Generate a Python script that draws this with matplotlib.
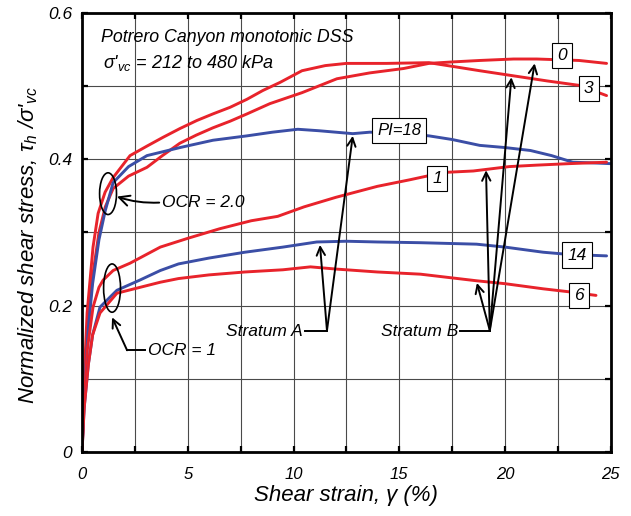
import matplotlib
matplotlib.use("Agg")
import matplotlib.pyplot as plt
from matplotlib.patches import Ellipse
from matplotlib.ticker import MultipleLocator

plt.rcParams['font.family'] = ['Liberation Sans', 'DejaVu Sans']
plt.rcParams['mathtext.fontset'] = 'custom'
plt.rcParams['mathtext.it'] = 'Liberation Sans:italic'
plt.rcParams['mathtext.rm'] = 'Liberation Sans'

RED = '#e8232b'
BLUE = '#3b4ea6'

# Stratum B, OCR = 2 (label 3)
x_r3 = [0, 0.1, 0.24, 0.38, 0.52, 0.76, 1.09, 1.47, 2.27, 3.07, 3.83, 4.63, 5.43, 6.19, 7.0,
        7.8, 8.55, 9.36, 10.4, 11.5, 12.5, 14.4, 16.4, 17.5, 18.8, 20.4, 22.0, 23.5, 24.8]
y_r3 = [0, 0.1, 0.19, 0.235, 0.28, 0.326, 0.355, 0.375, 0.405, 0.418, 0.430, 0.442, 0.453, 0.462,
        0.471, 0.482, 0.494, 0.505, 0.521, 0.528, 0.531, 0.531, 0.532, 0.527, 0.521, 0.514, 0.507,
        0.501, 0.487]

# Stratum B, OCR = 2 (label 0)
x_r0 = [0, 0.1, 0.3, 0.5, 0.8, 1.1, 1.47, 2.2, 3.07, 3.8, 4.63, 5.4, 6.19, 7.0, 7.8, 8.88,
        10.4, 12.05, 13.6, 15.2, 16.4, 17.5, 18.8, 20.4, 21.5, 22.5, 23.5, 24.8]
y_r0 = [0, 0.09, 0.18, 0.24, 0.3, 0.335, 0.36, 0.377, 0.389, 0.405, 0.422, 0.433, 0.443, 0.452,
        0.462, 0.476, 0.491, 0.510, 0.518, 0.524, 0.531, 0.533, 0.535, 0.537, 0.537, 0.536,
        0.535, 0.531]

# Stratum A, OCR = 2 (PI=18)
x_b18 = [0, 0.1, 0.3, 0.5, 0.8, 1.1, 1.47, 2.2, 3.07, 4.63, 6.19, 7.8, 9.0, 10.2, 11.2, 12.8,
         13.6, 15.0, 16.4, 17.5, 18.8, 20.0, 21.2, 22.2, 23.2, 24.2, 25.0]
y_b18 = [0, 0.08, 0.17, 0.23, 0.29, 0.33, 0.368, 0.39, 0.405, 0.416, 0.426, 0.432, 0.437, 0.441,
         0.439, 0.435, 0.437, 0.436, 0.432, 0.427, 0.419, 0.416, 0.412, 0.405, 0.396, 0.395, 0.394]

# Stratum B, OCR = 1 (label 1)
x_r1 = [0, 0.1, 0.25, 0.52, 0.8, 1.0, 1.47, 2.27, 3.7, 5.0, 6.5, 8.0, 9.25, 10.5, 12.0, 13.96,
        15.5, 17.1, 18.5, 20.2, 21.5, 23.0, 24.8]
y_r1 = [0, 0.07, 0.14, 0.198, 0.225, 0.235, 0.248, 0.258, 0.28, 0.292, 0.305, 0.316, 0.322,
        0.335, 0.348, 0.363, 0.372, 0.382, 0.384, 0.39, 0.392, 0.394, 0.396]

# Stratum A, OCR = 1 (label 14)
x_b14 = [0, 0.1, 0.3, 0.5, 0.85, 1.65, 2.74, 3.7, 4.56, 6.0, 7.7, 9.5, 11.1, 12.5, 13.96, 16.0,
         18.65, 20.0, 21.8, 23.0, 24.8]
y_b14 = [0, 0.06, 0.12, 0.16, 0.198, 0.221, 0.235, 0.248, 0.257, 0.265, 0.273, 0.28, 0.287,
         0.288, 0.287, 0.286, 0.284, 0.28, 0.273, 0.27, 0.268]

# Stratum B, OCR = 1 (label 6)
x_r6 = [0, 0.1, 0.3, 0.5, 0.85, 1.65, 2.74, 3.7, 4.56, 6.0, 7.7, 9.5, 10.8, 12.0, 13.96, 16.0,
        18.65, 20.0, 21.8, 23.0, 24.3]
y_r6 = [0, 0.06, 0.12, 0.16, 0.19, 0.217, 0.225, 0.232, 0.237, 0.242, 0.246, 0.249, 0.253,
        0.25, 0.246, 0.243, 0.234, 0.23, 0.223, 0.219, 0.214]

curves = [(x_r3, y_r3, RED), (x_r0, y_r0, RED), (x_b18, y_b18, BLUE),
          (x_r1, y_r1, RED), (x_b14, y_b14, BLUE), (x_r6, y_r6, RED)]

# boxed labels at curve ends
box_labels = ['0', '3', 'PI=18', '1', '14', '6']
box_x = [22.7, 23.95, 15.0, 16.8, 23.4, 23.5]
box_y = [0.542, 0.497, 0.439, 0.374, 0.269, 0.214]

x_ticks = [0, 5, 10, 15, 20, 25]
y_ticks = [0, 0.2, 0.4, 0.6]

fig = plt.figure(figsize=(6.31, 5.16), dpi=100)
ax = fig.add_axes([0.130, 0.124, 0.838, 0.851])

for xs, ys, c in curves:
    ax.plot(xs, ys, color=c, lw=2.1, solid_capstyle='round', zorder=3)

ax.set_xlim(0, 25)
ax.set_ylim(0, 0.6)
ax.set_xticks(x_ticks)
ax.set_yticks(y_ticks)
ax.set_xticklabels([str(t) for t in x_ticks], fontstyle='italic', fontsize=12)
ax.set_yticklabels(['0', '0.2', '0.4', '0.6'], fontstyle='italic', fontsize=12.5)
ax.xaxis.set_minor_locator(MultipleLocator(2.5))
ax.yaxis.set_minor_locator(MultipleLocator(0.1))
ax.grid(True, which='both', color='#4a4a4a', lw=0.8, zorder=1)
ax.tick_params(which='both', direction='in', length=4, width=1.6,
               top=True, right=True, color='black')
ax.tick_params(axis='x', pad=11)
ax.tick_params(axis='y', pad=7)
for s in ax.spines.values():
    s.set_linewidth(2.0)
    s.set_zorder(5)

ax.set_xlabel('Shear strain, γ (%)', fontstyle='italic', fontsize=16, labelpad=2)
ax.set_ylabel("Normalized shear stress, τ$_{h}$ /σ'$_{vc}$", fontstyle='italic', fontsize=16)
ax.yaxis.set_label_coords(-0.08, 0.47)

ax.text(0.9, 0.567, 'Potrero Canyon monotonic DSS', fontstyle='italic', fontsize=12.8,
        va='center', zorder=6)
ax.text(1.0, 0.531, "σ'$_{vc}$ = 212 to 480 kPa", fontstyle='italic', fontsize=13,
        va='center', zorder=6)

for lab, bx, by in zip(box_labels, box_x, box_y):
    fs = 12 if len(lab) > 2 else 12.5
    ax.text(bx, by, lab, fontstyle='italic', fontsize=fs, ha='center', va='center', zorder=6,
            bbox=dict(boxstyle='square,pad=0.3', fc='white', ec='black', lw=0.8))

# OCR ellipses and labels
ax.add_patch(Ellipse((1.23, 0.353), 0.8, 0.057, angle=0, fill=False, ec='black', lw=1.2, zorder=6))
ax.add_patch(Ellipse((1.42, 0.224), 0.8, 0.066, angle=0, fill=False, ec='black', lw=1.2, zorder=6))

arrow = dict(arrowstyle='->,head_length=0.6,head_width=0.3', color='black', lw=1.4,
             shrinkA=0, shrinkB=0)
ax.annotate('OCR = 2.0', xy=(1.65, 0.349), xytext=(3.78, 0.341), fontstyle='italic',
            fontsize=12.5, va='center', ha='left', arrowprops=dict(arrow, relpos=(0, 0.5),
            connectionstyle='arc3,rad=-0.1'), zorder=6)
ax.text(3.12, 0.139, 'OCR = 1', fontstyle='italic', fontsize=12.5, va='center', ha='left', zorder=6)
ax.plot([3.0, 2.13], [0.139, 0.139], color='black', lw=1.4, zorder=6)
ax.annotate('', xy=(1.42, 0.184), xytext=(2.13, 0.139), arrowprops=arrow, zorder=6)

# Stratum A
ax.text(8.6, 0.165, 'Stratum A', fontstyle='italic', fontsize=12.5, va='center', ha='center', zorder=6)
ax.plot([10.55, 11.58], [0.166, 0.166], color='black', lw=1.4, zorder=6)
for tx, ty in [(11.25, 0.283), (12.8, 0.432)]:
    ax.annotate('', xy=(tx, ty), xytext=(11.58, 0.166), arrowprops=arrow, zorder=6)

# Stratum B
ax.text(15.95, 0.165, 'Stratum B', fontstyle='italic', fontsize=12.5, va='center', ha='center', zorder=6)
ax.plot([17.85, 19.28], [0.166, 0.166], color='black', lw=1.4, zorder=6)
for tx, ty in [(18.67, 0.231), (19.1, 0.385), (20.3, 0.512), (21.4, 0.531)]:
    ax.annotate('', xy=(tx, ty), xytext=(19.28, 0.166), arrowprops=arrow, zorder=6)

fig.savefig('out.png', dpi=100)
